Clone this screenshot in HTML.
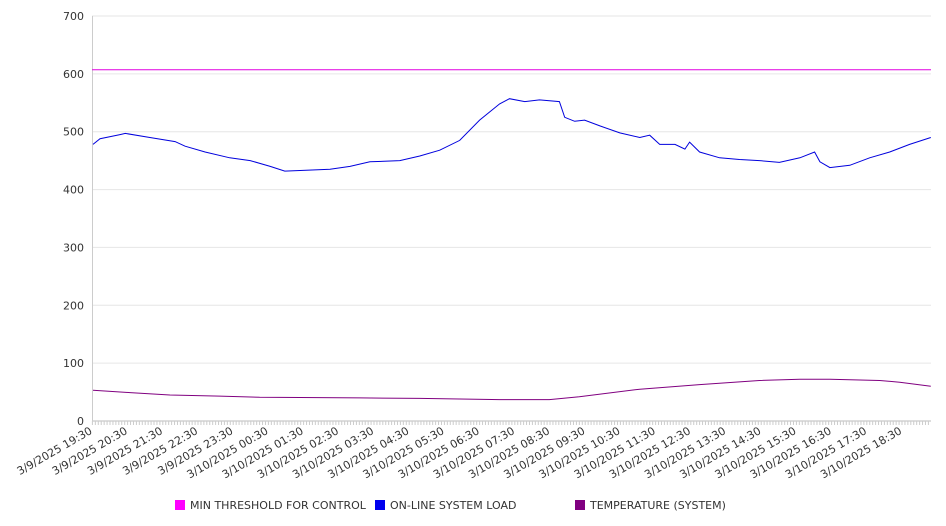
<!DOCTYPE html>
<html><head><meta charset="utf-8"><style>
body{margin:0;background:#fff;}
svg{display:block;font-family:"DejaVu Sans","Liberation Sans",sans-serif;}
</style></head><body>
<svg id="chart" width="946" height="526" viewBox="0 0 946 526"></svg>
<script>
const yTicks=[0,100,200,300,400,500,600,700];
const xLabels=["3/9/2025 19:30","3/9/2025 20:30","3/9/2025 21:30","3/9/2025 22:30","3/9/2025 23:30","3/10/2025 00:30","3/10/2025 01:30","3/10/2025 02:30","3/10/2025 03:30","3/10/2025 04:30","3/10/2025 05:30","3/10/2025 06:30","3/10/2025 07:30","3/10/2025 08:30","3/10/2025 09:30","3/10/2025 10:30","3/10/2025 11:30","3/10/2025 12:30","3/10/2025 13:30","3/10/2025 14:30","3/10/2025 15:30","3/10/2025 16:30","3/10/2025 17:30","3/10/2025 18:30"];
const loadMinutes=[0,12,46,55,97,140,157,191,233,268,302,327,353,404,438,472,523,557,591,625,659,693,710,736,761,795,804,821,838,864,898,932,949,966,992,1009,1017,1034,1068,1102,1136,1170,1205,1230,1239,1256,1290,1324,1358,1392,1428];
const loadValues=[478,488,495,497,490,483,475,465,455,450,440,432,433,435,440,448,450,458,468,485,520,548,557,552,555,552,525,518,520,510,498,490,494,478,478,470,482,465,455,452,450,447,455,465,448,438,442,455,465,478,490];
const tempMinutes=[0,63,131,216,284,455,557,693,778,829,932,1034,1136,1205,1256,1341,1375,1428];
const tempValues=[53,49,45,43,41,40,39,37,37,42,55,63,70,72,72,70,67,60];
const thresholdValue=607;
const legendItems=[["MIN THRESHOLD FOR CONTROL","#ff00ff"],["ON-LINE SYSTEM LOAD","#0000ee"],["TEMPERATURE (SYSTEM)","#800080"]];

const NS="http://www.w3.org/2000/svg";
const svg=document.getElementById('chart');
const L=92,R=931,T=16,B=421,X0=93,PXMIN=35.2/60;
const y=v=>B-(v/700)*(B-T);
const x=m=>X0+m*PXMIN;
function mk(tag,attrs,parent){const e=document.createElementNS(NS,tag);for(const k in attrs)e.setAttribute(k,attrs[k]);(parent||svg).appendChild(e);return e;}

const grid=mk('g',{});


yTicks.forEach(v=>{
  const l=mk('line',{x1:L,x2:R,y1:y(v),y2:y(v),stroke:v===0?'#bbb':'#e6e6e6','stroke-width':1},grid);
  
  
  const t=mk('text',{x:84,y:y(v)+4,'text-anchor':'end','font-size':11,fill:'#333'},grid);
  
  
  t.textContent=v;
});
mk('line',{x1:L+0.5,x2:L+0.5,y1:T,y2:B,stroke:'#ccc'});
// minor ticks
const ticks=mk('g',{stroke:'#ccc'});


for(let m=-1;x(m)<=R;m+=5){if(x(m)>=L)mk('line',{x1:x(m),x2:x(m),y1:B,y2:B+4},ticks);}
const xl=mk('g',{});


xLabels.forEach((s,i)=>{
  const px=x(i*60);
  const t=mk('text',{x:px,y:B+12,'text-anchor':'end','font-size':11,fill:'#333',transform:`rotate(-30 ${px} ${B+12})`},xl);
  
  
  t.textContent=s;
});
function path(ms,vs){return ms.map((m,i)=>(i?'L':'M')+x(m).toFixed(1)+','+y(vs[i]).toFixed(1)).join('');}
const th=mk('line',{x1:L,x2:R,y1:y(thresholdValue),y2:y(thresholdValue),stroke:'#e000e0','stroke-width':1});


const ld=mk('path',{d:path(loadMinutes,loadValues),fill:'none',stroke:'#0000dd','stroke-width':1});


const tp=mk('path',{d:path(tempMinutes,tempValues),fill:'none',stroke:'#800080','stroke-width':1});


const lg=mk('g',{});


legendItems.forEach((it,i)=>{
  const lx=175+i*200;
  const r=mk('rect',{x:lx,y:500,width:10,height:10,fill:it[1]},lg);
  
  
  const t=mk('text',{x:lx+15,y:509,'font-size':11,fill:'#333'},lg);
  
  
  t.textContent=it[0];
});
</script>
</body></html>
